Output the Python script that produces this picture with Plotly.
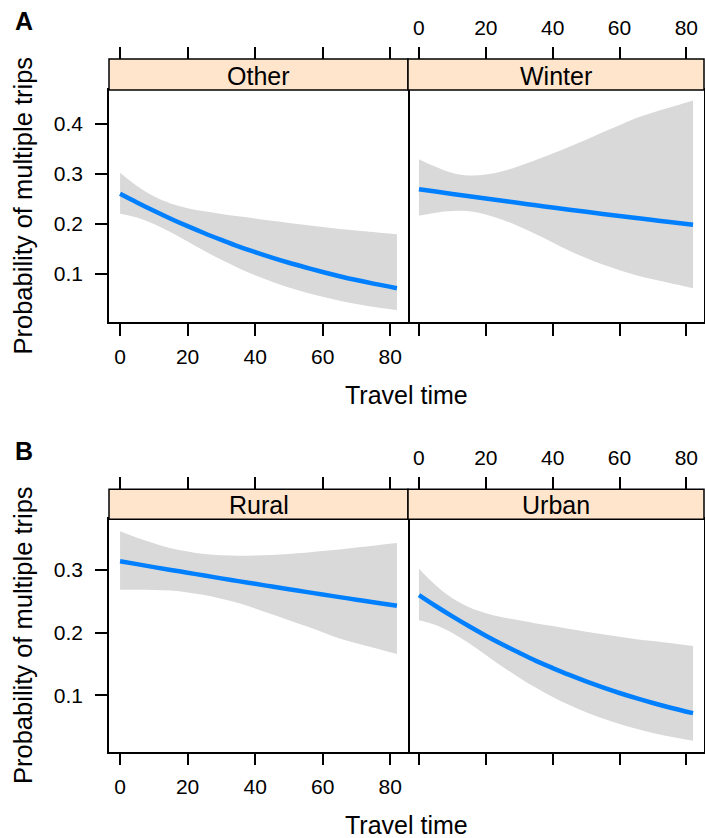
import plotly.graph_objects as go

# ---------------- data ----------------
travel_time = [0, 5, 10, 15, 20, 25, 30, 35, 40, 45, 50, 55, 60, 65, 70, 75, 82]

other_fit   = [0.260, 0.2426, 0.226, 0.2102, 0.1952, 0.1811, 0.1678, 0.155, 0.1435,
               0.1325, 0.1222, 0.1127, 0.1037, 0.0954, 0.0877, 0.0806, 0.0715]
other_upper = [0.302, 0.2756, 0.2548, 0.2405, 0.2312, 0.2248, 0.2197, 0.2148, 0.2105,
               0.2059, 0.2016, 0.1975, 0.1934, 0.1897, 0.1867, 0.1835, 0.1789]
other_lower = [0.220, 0.2124, 0.1996, 0.183, 0.1645, 0.1458, 0.1281, 0.112, 0.0974,
               0.0844, 0.073, 0.063, 0.0542, 0.0466, 0.040, 0.0343, 0.0276]

winter_fit   = [0.269, 0.2643, 0.2595, 0.2549, 0.2503, 0.2458, 0.2413, 0.2369, 0.2325,
                0.2282, 0.2239, 0.2197, 0.2156, 0.2115, 0.2074, 0.2035, 0.198]
winter_upper = [0.329, 0.3136, 0.3013, 0.2963, 0.2982, 0.3049, 0.3154, 0.3272, 0.3401,
                0.3535, 0.3678, 0.3826, 0.3969, 0.4111, 0.4222, 0.4321, 0.446]
winter_lower = [0.216, 0.2222, 0.2254, 0.225, 0.2187, 0.2082, 0.1944, 0.1793, 0.1629,
                0.1461, 0.1318, 0.1186, 0.1075, 0.0974, 0.0892, 0.0818, 0.0714]

rural_fit   = [0.314, 0.3094, 0.3047, 0.3002, 0.2957, 0.2912, 0.2867, 0.2823, 0.278,
               0.2736, 0.2694, 0.2651, 0.2609, 0.2568, 0.2527, 0.2486, 0.243]
rural_upper = [0.362, 0.3517, 0.3429, 0.3348, 0.3296, 0.3255, 0.3238, 0.323, 0.3234,
               0.3242, 0.3258, 0.3276, 0.3302, 0.3329, 0.3359, 0.3388, 0.343]
rural_lower = [0.2686, 0.2686, 0.2681, 0.2672, 0.2642, 0.2601, 0.2542, 0.2475, 0.2388,
               0.2294, 0.220, 0.2107, 0.2008, 0.1908, 0.1831, 0.176, 0.166]

urban_fit   = [0.260, 0.2426, 0.226, 0.2102, 0.1952, 0.1811, 0.1678, 0.155, 0.1435,
               0.1325, 0.1222, 0.1127, 0.1037, 0.0954, 0.0877, 0.0806, 0.0715]
urban_upper = [0.302, 0.2756, 0.2548, 0.2405, 0.2312, 0.2248, 0.2197, 0.2148, 0.2105,
               0.2059, 0.2016, 0.1975, 0.1934, 0.1897, 0.1867, 0.1835, 0.1789]
urban_lower = [0.220, 0.2124, 0.1996, 0.183, 0.1645, 0.1458, 0.1281, 0.112, 0.0974,
               0.0844, 0.073, 0.063, 0.0542, 0.0466, 0.040, 0.0343, 0.0276]

x_ticks = [0, 20, 40, 60, 80]
y_ticks_a = [0.1, 0.2, 0.3, 0.4]
y_ticks_b = [0.1, 0.2, 0.3]
strip_labels = ["Other", "Winter", "Rural", "Urban"]
panel_letters = ["A", "B"]
x_title = "Travel time"
y_title = "Probability of multiple trips"

# ---------------- layout helpers ----------------
W, H = 705, 838
FONT = "Liberation Sans"
BLUE = "#0080FF"
BAND = "#D9D9D9"
STRIP = "#FFE5CC"
LW = 1.5
TICKLEN = 12
TICKSIZE = 21


def fx(x):
    return x / W


def fy(y):
    return 1 - y / H


X_RANGE = [-3.28, 85.28]
COLS = [(109, 408), (408, 704)]
ROWS = [
    dict(strip_top=59, top=90, bottom=322, yr=[0.004, 0.467], yt=y_ticks_a),
    dict(strip_top=489.3, top=519.3, bottom=751.7, yr=[0.010, 0.381], yt=y_ticks_b),
]

series = [
    (other_fit, other_lower, other_upper),
    (winter_fit, winter_lower, winter_upper),
    (rural_fit, rural_lower, rural_upper),
    (urban_fit, urban_lower, urban_upper),
]

fig = go.Figure()
layout = dict(
    width=W, height=H,
    margin=dict(l=0, r=0, t=0, b=0),
    paper_bgcolor="white", plot_bgcolor="white",
    showlegend=False,
    font=dict(family=FONT, color="black", size=20),
)
shapes = []
annotations = []

for i in range(4):
    r, c = divmod(i, 2)
    row = ROWS[r]
    col = COLS[c]
    n = i + 1
    xs = "" if n == 1 else str(n)
    xa, ya = "x" + xs, "y" + xs
    tn = str(n + 4)
    fit, lo, hi = series[i]

    fig.add_trace(go.Scatter(
        x=travel_time, y=lo, mode="lines", line=dict(width=0, shape="spline"),
        hoverinfo="skip", xaxis=xa, yaxis=ya))
    fig.add_trace(go.Scatter(
        x=travel_time, y=hi, mode="lines", line=dict(width=0, shape="spline"),
        fill="tonexty", fillcolor=BAND, hoverinfo="skip", xaxis=xa, yaxis=ya))
    fig.add_trace(go.Scatter(
        x=travel_time, y=fit, mode="lines",
        line=dict(color=BLUE, width=4.5, shape="spline"), xaxis=xa, yaxis=ya))
    # invisible companion trace so the top axis is drawn
    fig.add_trace(go.Scatter(
        x=travel_time, y=fit, mode="lines", line=dict(width=0),
        opacity=0, hoverinfo="skip", xaxis="x" + tn, yaxis=ya))

    # bottom x axis
    layout["xaxis" + xs] = dict(
        domain=[fx(col[0]), fx(col[1])], range=X_RANGE, anchor=ya,
        showgrid=False, zeroline=False, showline=True, mirror=True,
        linecolor="black", linewidth=LW,
        ticks="outside", ticklen=TICKLEN, tickwidth=LW, tickcolor="black",
        tickvals=x_ticks, showticklabels=(c == 0),
        tickfont=dict(size=TICKSIZE, family=FONT), ticklabelstandoff=3,
    )
    # y axis
    if c == 0:
        layout["yaxis" + xs] = dict(
            domain=[fy(row["bottom"]), fy(row["top"])], range=row["yr"], anchor=xa,
            showgrid=False, zeroline=False, showline=True, mirror=True,
            linecolor="black", linewidth=LW,
            ticks="outside", ticklen=TICKLEN, tickwidth=LW,
            tickcolor="black", tickvals=row["yt"], tickformat=".1f",
            showticklabels=True, tickfont=dict(size=TICKSIZE, family=FONT),
            ticklabelstandoff=8,
        )
    else:
        layout["yaxis" + xs] = dict(
            domain=[fy(row["bottom"]), fy(row["top"])], range=row["yr"], anchor=xa,
            side="right", showgrid=False, zeroline=False, showline=True,
            mirror=False, linecolor="black", linewidth=LW,
            ticks="", tickvals=row["yt"], showticklabels=False,
        )
    # top x axis (above the strip)
    layout["xaxis" + tn] = dict(
        domain=[fx(col[0]), fx(col[1])], range=X_RANGE, overlaying=xa,
        anchor="free", position=fy(row["strip_top"]), side="top",
        showgrid=False, zeroline=False, showline=False,
        ticks="outside", ticklen=TICKLEN, tickwidth=LW, tickcolor="black",
        tickvals=x_ticks, showticklabels=(c == 1),
        tickfont=dict(size=TICKSIZE, family=FONT), ticklabelstandoff=4,
    )
    # strip
    shapes.append(dict(
        type="rect", xref="paper", yref="paper",
        x0=fx(col[0]), x1=fx(col[1]), y0=fy(row["top"]), y1=fy(row["strip_top"]),
        fillcolor=STRIP, line=dict(color="black", width=LW), layer="above"))
    annotations.append(dict(
        text=strip_labels[i], xref="paper", yref="paper",
        x=fx((col[0] + col[1]) / 2), y=fy((row["strip_top"] + row["top"]) / 2 + 1),
        xanchor="center", yanchor="middle", showarrow=False,
        font=dict(size=25, family=FONT)))

# axis titles and panel letters
for r, row in enumerate(ROWS):
    annotations.append(dict(
        text=y_title, xref="paper", yref="paper", textangle=-90,
        x=fx(22.5), y=fy((row["top"] + row["bottom"]) / 2),
        xanchor="center", yanchor="middle", showarrow=False,
        font=dict(size=25.5, family=FONT)))
    annotations.append(dict(
        text=x_title, xref="paper", yref="paper",
        x=fx(407), y=fy(row["bottom"] + 73),
        xanchor="center", yanchor="middle", showarrow=False,
        font=dict(size=25, family=FONT)))
    annotations.append(dict(
        text="<b>" + panel_letters[r] + "</b>", xref="paper", yref="paper",
        x=fx(24), y=fy(row["strip_top"] - 38),
        xanchor="center", yanchor="middle", showarrow=False,
        font=dict(size=25, family=FONT)))

layout["shapes"] = shapes
layout["annotations"] = annotations
fig.update_layout(**layout)
fig.write_html(
    "out.html",
    config={"displayModeBar": False},
    post_script="document.body.style.margin='0';document.body.style.overflow='hidden';",
)
